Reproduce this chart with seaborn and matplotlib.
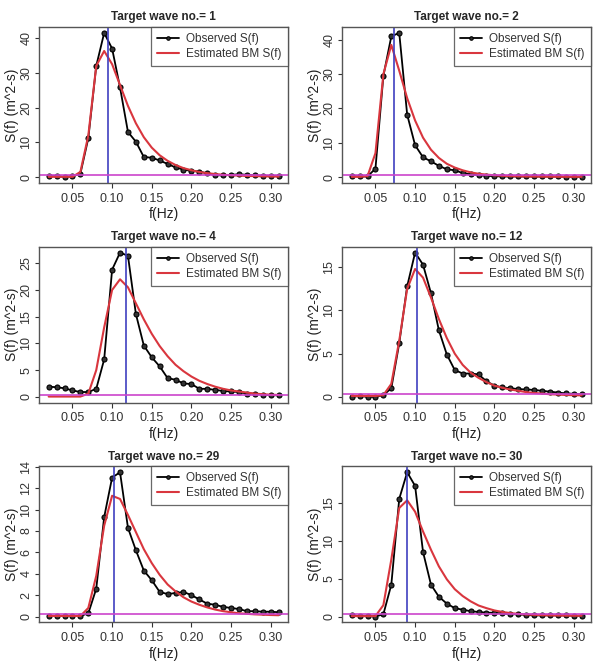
import matplotlib
matplotlib.use("Agg")
import matplotlib.pyplot as plt
import numpy as np
import pandas as pd
import seaborn as sns

# frequencies (Hz)
freq = [round(0.02 + 0.01 * i, 2) for i in range(30)]

wave_ids = [1, 2, 4, 12, 29, 30]

obs_1 = [0.3, 0.3, 0.1, 0.3, 1.0, 11.2, 32.0, 41.5, 37.0, 25.8, 13.0, 10.2, 5.8, 5.6, 4.8,
         3.8, 2.8, 2.2, 1.8, 1.6, 1.1, 0.6, 0.5, 0.7, 0.8, 0.7, 0.5, 0.4, 0.3, 0.3]
est_1 = [0.1, 0.1, 0.1, 0.1, 1.5, 12.0, 32.0, 36.3, 32.5, 26.5, 20.5, 15.5, 11.5, 8.5, 6.3,
         4.7, 3.5, 2.6, 2.0, 1.5, 1.15, 0.9, 0.7, 0.55, 0.45, 0.35, 0.3, 0.25, 0.2, 0.17]

obs_2 = [0.4, 0.2, 0.2, 2.5, 29.5, 41.0, 42.0, 18.2, 9.3, 5.8, 4.6, 3.3, 2.3, 2.0, 1.2,
         0.8, 0.6, 0.4, 0.3, 0.2, 0.2, 0.2, 0.2, 0.2, 0.2, 0.2, 0.2, 0.1, 0.1, 0.1]
est_2 = [0.1, 0.1, 0.3, 7.0, 30.0, 38.5, 31.0, 23.0, 16.5, 11.5, 8.0, 5.6, 3.9, 2.8, 2.0,
         1.4, 1.0, 0.75, 0.55, 0.4, 0.3, 0.25, 0.2, 0.18, 0.15, 0.13, 0.12, 0.11, 0.1, 0.1]

obs_4 = [1.9, 1.8, 1.6, 1.2, 0.9, 0.9, 1.5, 7.0, 23.8, 27.0, 26.4, 15.5, 9.6, 7.4, 5.7,
         3.5, 3.2, 2.5, 2.4, 1.5, 1.5, 1.3, 1.1, 1.0, 0.9, 0.6, 0.6, 0.4, 0.3, 0.3]
est_4 = [0.05, 0.05, 0.05, 0.05, 0.05, 0.6, 5.0, 13.0, 20.0, 22.0, 20.5, 17.5, 14.5, 11.8, 9.5,
         7.6, 6.0, 4.8, 3.8, 3.0, 2.4, 1.9, 1.5, 1.2, 1.0, 0.8, 0.6, 0.5, 0.4, 0.35]

obs_12 = [0.0, 0.1, 0.0, 0.0, 0.2, 1.0, 6.2, 12.8, 16.7, 15.3, 12.0, 7.7, 4.9, 3.1, 2.7,
          2.7, 2.6, 1.8, 1.3, 1.1, 1.0, 0.9, 0.85, 0.8, 0.7, 0.6, 0.5, 0.4, 0.35, 0.3]
est_12 = [0.1, 0.1, 0.1, 0.1, 0.2, 1.5, 6.5, 12.5, 14.8, 13.8, 11.5, 9.0, 6.8, 5.0, 3.7,
          2.8, 2.2, 1.7, 1.3, 1.05, 0.85, 0.7, 0.55, 0.45, 0.38, 0.3, 0.26, 0.22, 0.19, 0.17]

obs_29 = [0.05, 0.05, 0.05, 0.05, 0.05, 0.3, 2.6, 9.3, 13.0, 13.5, 8.3, 6.2, 4.3, 3.4, 2.3,
          2.1, 2.2, 2.3, 2.0, 1.6, 1.2, 1.1, 0.9, 0.8, 0.7, 0.5, 0.5, 0.45, 0.45, 0.4]
est_29 = [0.05, 0.05, 0.05, 0.05, 0.05, 0.8, 3.8, 8.5, 11.3, 11.0, 9.5, 7.9, 6.3, 5.0, 3.9,
          3.0, 2.35, 1.8, 1.4, 1.1, 0.85, 0.65, 0.5, 0.4, 0.3, 0.25, 0.2, 0.17, 0.14, 0.12]

obs_30 = [0.15, 0.05, 0.05, 0.0, 0.3, 4.2, 15.5, 19.0, 17.2, 8.5, 4.2, 2.6, 1.7, 1.1, 0.9,
          0.7, 0.6, 0.5, 0.5, 0.4, 0.3, 0.3, 0.2, 0.15, 0.15, 0.15, 0.15, 0.15, 0.1, 0.1]
est_30 = [0.05, 0.05, 0.05, 0.05, 1.5, 7.5, 14.3, 15.3, 13.8, 11.2, 8.8, 6.6, 4.9, 3.6, 2.7,
          2.0, 1.45, 1.1, 0.8, 0.6, 0.45, 0.35, 0.27, 0.22, 0.18, 0.15, 0.13, 0.12, 0.1, 0.1]

observed = [obs_1, obs_2, obs_4, obs_12, obs_29, obs_30]
estimated = [est_1, est_2, est_4, est_12, est_29, est_30]
peak_freq = [0.095, 0.074, 0.117, 0.103, 0.103, 0.090]
base_level = [0.5, 0.5, 0.3, 0.3, 0.2, 0.3]
y_ticks = [[0, 10, 20, 30, 40], [0, 10, 20, 30, 40], [0, 5, 10, 15, 20, 25],
           [0, 5, 10, 15], [0, 2, 4, 6, 8, 10, 12, 14], [0, 5, 10, 15]]

sns.set_style("ticks")
plt.rcParams['font.family'] = ['Liberation Sans', 'DejaVu Sans']

fig, axes = plt.subplots(3, 2, figsize=(5.98, 6.62), dpi=100)
fig.subplots_adjust(left=0.066, right=0.988, top=0.959, bottom=0.060, wspace=0.22, hspace=0.41)

for k, ax in enumerate(axes.flat):
    df = pd.DataFrame({"f": freq, "obs": observed[k], "est": estimated[k]})
    sns.lineplot(data=df, x="f", y="obs", ax=ax, color="black", lw=1.3, marker="o",
                 markersize=3.6, markerfacecolor="#333333", markeredgecolor="black",
                 markeredgewidth=0.8, label="Observed S(f)")
    sns.lineplot(data=df, x="f", y="est", ax=ax, color="#d9363e", lw=1.5,
                 label="Estimated BM S(f)")
    ax.axvline(peak_freq[k], color="#4040c0", lw=1.2)
    ax.axhline(base_level[k], color="#cc44cc", lw=1.2)

    ymax = max(max(observed[k]), max(estimated[k]))
    ax.set_xlim(0.02 - 0.0116, 0.31 + 0.0116)
    ax.set_ylim(-0.04 * ymax, ymax * 1.04)
    ax.set_xticks([0.05, 0.10, 0.15, 0.20, 0.25, 0.30])
    ax.set_xticklabels(["0.05", "0.10", "0.15", "0.20", "0.25", "0.30"])
    ax.set_yticks(y_ticks[k])
    ax.set_yticklabels([str(t) for t in y_ticks[k]], rotation=90, va="center")
    ax.tick_params(labelsize=9, length=3.5, width=0.8, colors="#333333", labelcolor="#333333")
    ax.tick_params(axis="y", pad=2, length=3)
    for s in ax.spines.values():
        s.set_visible(True)
        s.set_color("#555555")
        s.set_linewidth(1.0)
    ax.set_xlabel("f(Hz)", fontsize=10, color="#222222", labelpad=2)
    ax.set_ylabel("S(f) (m^2-s)", fontsize=10, color="#222222", labelpad=1)
    ax.set_title(f"Target wave no.= {wave_ids[k]}", fontsize=8.5, fontweight="bold", pad=5)
    leg = ax.legend(loc="upper right", borderaxespad=0, fancybox=False, fontsize=8.5,
                    handlelength=1.9, handletextpad=0.6, frameon=True, borderpad=0.5,
                    labelspacing=0.25, markerscale=0.7)
    leg.get_frame().set_edgecolor("#444444")
    leg.get_frame().set_linewidth(0.9)
    for t in leg.get_texts():
        t.set_color("#333333")

fig.savefig("out.png", dpi=100)
